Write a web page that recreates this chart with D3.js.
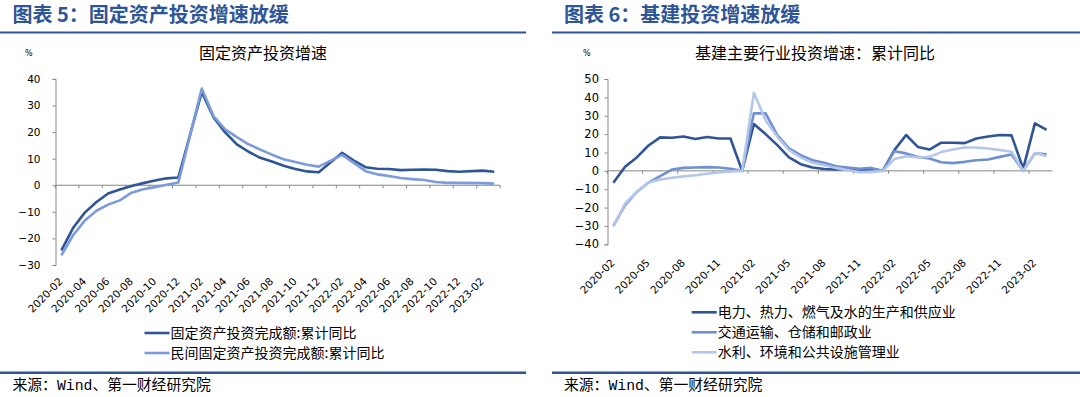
<!DOCTYPE html>
<html>
<head>
<meta charset="utf-8">
<script src="https://cdn.jsdelivr.net/npm/d3@7"></script>
<style>
  body { margin: 0; background: #fff; }
  svg { display: block; }
  .num { font-family: "DejaVu Sans", sans-serif; font-size: 10.5px; fill: #000; }
  .cjk { font-family: "Noto Sans CJK SC", sans-serif; fill: #000; }
</style>
</head>
<body>
<div class="chart"></div>
<script>
// months on both category axes (Jan has no data in the left chart)
var months = [
  "2020-02","2020-03","2020-04","2020-05","2020-06","2020-07","2020-08","2020-09","2020-10","2020-11","2020-12",
  "2021-01","2021-02","2021-03","2021-04","2021-05","2021-06","2021-07","2021-08","2021-09","2021-10","2021-11","2021-12",
  "2022-01","2022-02","2022-03","2022-04","2022-05","2022-06","2022-07","2022-08","2022-09","2022-10","2022-11","2022-12",
  "2023-01","2023-02","2023-03"
];

// left chart: fixed asset investment, cumulative yoy %
var faiTotal = [
  -24.5, -16.1, -10.3, -6.3, -3.1, -1.6, -0.3, 0.8, 1.8, 2.6, 2.9,
  null, 35.0, 25.6, 19.9, 15.4, 12.6, 10.3, 8.9, 7.3, 6.1, 5.2, 4.9,
  null, 12.2, 9.3, 6.8, 6.2, 6.1, 5.7, 5.8, 5.9, 5.8, 5.3, 5.1,
  null, 5.5, 5.1
];
var faiPrivate = [
  -26.4, -18.8, -13.3, -9.6, -7.3, -5.7, -2.8, -1.5, -0.7, 0.2, 1.0,
  null, 36.4, 26.0, 21.0, 18.1, 15.4, 13.4, 11.5, 9.8, 8.7, 7.7, 7.0,
  null, 11.4, 8.4, 5.3, 4.1, 3.5, 2.7, 2.3, 2.0, 1.2, 0.9, 0.9,
  null, 0.8, 0.6
];
var leftNames = ["固定资产投资完成额:累计同比", "民间固定资产投资完成额:累计同比"];
var leftTicks = ["2020-02","2020-04","2020-06","2020-08","2020-10","2020-12","2021-02","2021-04","2021-06",
  "2021-08","2021-10","2021-12","2022-02","2022-04","2022-06","2022-08","2022-10","2022-12","2023-02"];
var leftY = [-30, -20, -10, 0, 10, 20, 30, 40];

// right chart: infrastructure sectors, cumulative yoy %
var power = [
  -6.5, 2.2, 7.3, 13.8, 18.2, 18.0, 18.7, 17.3, 18.4, 17.6, 17.6,
  0, 25.5, 20.0, 14.0, 7.3, 3.6, 1.8, 1.0, 0.7, 1.0, 0.4, 1.0,
  0, 11.3, 19.5, 13.0, 11.6, 15.3, 15.3, 15.1, 17.6, 18.7, 19.5, 19.3,
  1.2, 25.8, 22.3
];
var transport = [
  -30.0, -18.7, -11.5, -6.4, -2.9, 0.7, 1.6, 1.8, 2.0, 1.8, 1.1,
  0, 31.3, 31.3, 19.5, 12.2, 8.5, 5.8, 4.4, 2.5, 1.8, 1.1, 1.6,
  0, 10.7, 9.5, 7.6, 6.7, 4.7, 4.2, 4.9, 5.8, 6.2, 7.6, 8.9,
  0, 9.5, 9.0
];
var water = [
  -30.3, -17.8, -11.5, -6.4, -4.7, -3.8, -3.0, -2.4, -1.6, -0.9, -0.3,
  0, 42.5, 27.6, 18.5, 11.3, 7.3, 4.4, 3.0, 1.6, 0.4, -0.7, -0.7,
  0, 6.4, 8.0, 7.3, 7.6, 10.2, 11.6, 12.7, 12.7, 12.2, 11.3, 10.4,
  0, 9.8, 8.0
];
var rightNames = ["电力、热力、燃气及水的生产和供应业", "交通运输、仓储和邮政业", "水利、环境和公共设施管理业"];
var rightTicks = ["2020-02","2020-05","2020-08","2020-11","2021-02","2021-05","2021-08","2021-11",
  "2022-02","2022-05","2022-08","2022-11","2023-02"];
var rightY = [-40, -30, -20, -10, 0, 10, 20, 30, 40, 50];

var blueHead = "#2E5597";
var axisGray = "#868686";

var svg = d3.select(".chart").append("svg")
  .attr("width", 1080)
  .attr("height", 397);

// one panel: header, rule lines, title, plot, legend, source
function panel(opt) {
  var g = svg.append("g");

  g.append("text")
    .attr("class", "cjk")
    .attr("x", opt.headX).attr("y", 22)
    .style("font-size", "20px").style("font-weight", "bold")
    .style("fill", blueHead)
    .text(opt.head);

  g.append("line")
    .attr("x1", opt.ruleX0).attr("x2", opt.ruleX1)
    .attr("y1", 32.5).attr("y2", 32.5)
    .attr("stroke", blueHead).attr("stroke-width", 2.2);

  g.append("line")
    .attr("x1", opt.ruleX0).attr("x2", opt.ruleX1)
    .attr("y1", 372.7).attr("y2", 372.7)
    .attr("stroke", blueHead).attr("stroke-width", 2.5);

  g.append("text")
    .attr("x", opt.headX).attr("y", 390)
    .style("font-family", "'Liberation Mono', 'Noto Sans CJK SC', monospace")
    .style("font-size", "14.8px").style("fill", "#000")
    .text("来源：Wind、第一财经研究院");

  g.append("text")
    .attr("class", "num")
    .attr("x", opt.pctX).attr("y", 56)
    .style("font-size", "8px")
    .text("%");

  g.append("text")
    .attr("class", "cjk")
    .attr("x", opt.titleX).attr("y", 59)
    .attr("text-anchor", "middle")
    .style("font-size", "16px")
    .text(opt.title);

  var x = d3.scaleBand().domain(months).range([opt.x0, opt.x1]);
  var y = d3.scaleLinear().domain(opt.yDomain).range([opt.yBottom, opt.yTop]);

  // y axis
  var yAxis = g.append("g")
    .attr("transform", `translate(${opt.x0}, 0)`)
    .call(d3.axisLeft(y).tickValues(opt.yTicks).tickSize(3).tickPadding(opt.yPad)
      .tickFormat(d => d < 0 ? "\u2212" + Math.abs(d) : d));
  yAxis.select(".domain").attr("stroke", axisGray);
  yAxis.selectAll(".tick line").attr("stroke", axisGray);
  yAxis.selectAll(".tick text").attr("class", "num").style("font-size", opt.yFont);

  // x axis at zero
  g.append("line")
    .attr("x1", opt.x0).attr("x2", opt.x1)
    .attr("y1", y(0)).attr("y2", y(0))
    .attr("stroke", axisGray).attr("stroke-width", 1);

  // tick marks on category boundaries
  var bounds = opt.xTicks.map(m => x(m)).concat(opt.endTick ? [opt.x1] : []);
  g.selectAll(".xtick")
    .data(bounds)
    .enter().append("line")
    .attr("x1", d => d).attr("x2", d => d)
    .attr("y1", y(0)).attr("y2", y(0) + 3)
    .attr("stroke", axisGray);

  // rotated labels under the bottom of the plot
  g.selectAll(".xlab")
    .data(opt.xTicks)
    .enter().append("text")
    .attr("class", "num")
    .attr("text-anchor", "end")
    .attr("transform", d => `translate(${x(d) + x.bandwidth() / 2 - 0.5}, ${opt.yBottom + opt.labDrop}) rotate(-45)`)
    .attr("dy", "0.35em")
    .text(d => d);

  // series
  opt.series.forEach(function (s) {
    var pts = months.map((m, i) => ({ m: m, v: s.values[i] })).filter(d => d.v !== null);
    g.append("path")
      .datum(pts)
      .attr("fill", "none")
      .attr("stroke", s.color)
      .attr("stroke-width", 2.6)
      .attr("stroke-linejoin", "round")
      .attr("d", d3.line().x(d => x(d.m) + x.bandwidth() / 2).y(d => y(d.v)));
  });

  // legend
  opt.series.forEach(function (s, i) {
    var ly = opt.legendY + i * 20;
    g.append("line")
      .attr("x1", opt.legendX).attr("x2", opt.legendX + 25)
      .attr("y1", ly).attr("y2", ly)
      .attr("stroke", s.color).attr("stroke-width", 2.6);
    g.append("text")
      .attr("class", "cjk")
      .attr("x", opt.legendX + 26).attr("y", ly)
      .attr("dy", "0.36em")
      .style("font-size", "14px")
      .text(s.name);
  });
}

panel({
  head: "图表 5：固定资产投资增速放缓",
  headX: 12.5, ruleX0: 0, ruleX1: 526,
  pctX: 25, title: "固定资产投资增速", titleX: 263,
  x0: 55.5, x1: 55.5 + 38 * 11.7,
  yDomain: [-30, 40], yBottom: 265, yTop: 78.9, yTicks: leftY,
  yPad: 12, yFont: "10.5px", labDrop: 14.5,
  xTicks: leftTicks, endTick: true,
  legendX: 144.5, legendY: 333,
  series: [
    { name: leftNames[0], values: faiTotal, color: "#2F5597" },
    { name: leftNames[1], values: faiPrivate, color: "#7B9BDC" }
  ]
});

panel({
  head: "图表 6：基建投资增速放缓",
  headX: 564, ruleX0: 552, ruleX1: 1080,
  pctX: 583, title: "基建主要行业投资增速：累计同比", titleX: 815,
  x0: 607.5, x1: 607.5 + 38 * 11.71,
  yDomain: [-40, 50], yBottom: 244.3, yTop: 79, yTicks: rightY,
  yPad: 5.5, yFont: "11.5px", labDrop: 16.5,
  xTicks: rightTicks, endTick: false,
  legendX: 691.7, legendY: 312.3,
  series: [
    { name: rightNames[0], values: power, color: "#2F5597" },
    { name: rightNames[1], values: transport, color: "#6F8FD3" },
    { name: rightNames[2], values: water, color: "#B4C7E7" }
  ]
});
</script>
</body>
</html>
